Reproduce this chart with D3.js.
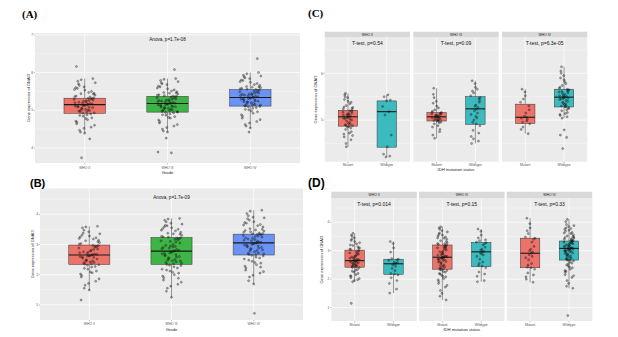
<!DOCTYPE html>
<html>
<head>
<meta charset="utf-8">
<script src="https://cdn.jsdelivr.net/npm/d3@7"></script>
<style>
  body { margin: 0; background: #fff; }
  svg { display: block; font-family: "Liberation Sans", Arial, sans-serif; }
</style>
</head>
<body>
<svg id="fig" width="618" height="337"></svg>
<script>
const gradeNames = ["WHO II", "WHO III", "WHO IV"];
const idhNames = ["Mutant", "Wildtype"];
const geneLabel = "Gene expression of GNAI3";

// (A) expression by grade, first cohort
const aTest = "Anova, p=1.7e-08";
const aTicks = [4, 5, 6, 7];
const aQ1 = [4.92, 4.95, 5.11];
const aMed = [5.15, 5.18, 5.34];
const aQ3 = [5.32, 5.37, 5.55];
const aLow = [4.39, 4.42, 4.53];
const aHigh = [5.84, 5.84, 6.00];
const aPoints = [
    [5.15,4.98,5.31,5.62,4.71,5.08,5.44,4.93,5.22,5.77,4.55,5.12,5.36,5.01,4.86,5.27,5.53,4.64,5.18,5.05,5.40,4.95,5.70,4.80,5.24,5.11,5.47,4.42,5.33,5.02,5.58,4.90,5.19,5.29,4.75,5.66,5.07,5.14,5.38,4.99,5.81,4.60,5.25,5.09,5.50,4.84,5.20,5.32,4.96,5.43,5.13,4.68,5.35,5.04,5.73,4.88,5.21,5.17,4.52,5.60,5.26,5.00,5.45,4.78,5.10,5.30,4.92,5.55,5.16,4.47,5.84,4.39,6.16,4.24,3.74],
    [5.20,4.97,5.36,5.68,4.74,5.11,5.47,4.96,5.25,5.79,4.58,5.15,5.40,5.03,4.88,5.30,5.57,4.66,5.21,5.07,5.43,4.99,5.73,4.83,5.27,5.14,5.51,4.45,5.37,5.05,5.62,4.93,5.22,5.33,4.79,5.70,5.09,5.17,5.41,5.01,5.82,4.62,5.28,5.12,5.54,4.87,5.23,5.35,4.98,5.46,5.16,4.70,5.38,5.06,5.76,4.90,5.24,5.19,4.54,5.64,5.29,5.02,5.49,4.81,5.13,5.32,4.94,5.59,5.18,4.50,5.84,4.42,5.26,5.10,5.39,4.95,5.45,5.08,6.08,4.26,3.89,3.87],
    [5.35,5.12,5.52,5.84,4.88,5.27,5.63,5.10,5.41,5.93,4.70,5.31,5.57,5.18,5.02,5.46,5.74,4.79,5.37,5.22,5.60,5.13,5.89,4.96,5.43,5.29,5.68,4.58,5.54,5.20,5.79,5.07,5.38,5.49,4.92,5.86,5.24,5.33,5.58,5.15,5.97,4.75,5.44,5.28,5.71,5.01,5.39,5.51,5.11,5.62,5.32,4.84,5.55,5.21,5.91,5.05,5.40,5.36,4.66,5.80,5.45,5.16,5.66,4.98,5.30,5.48,5.09,5.76,5.34,4.62,6.00,4.53,5.42,5.25,5.56,5.14,5.61,5.23,6.37,4.42]
];

// (B) expression by grade, second cohort
const bTest = "Anova, p=1.7e-09";
const bTicks = [1, 2, 3, 4];
const bQ1 = [2.34, 2.34, 2.65];
const bMed = [2.65, 2.78, 3.05];
const bQ3 = [2.98, 3.23, 3.34];
const bLow = [1.49, 1.25, 1.69];
const bHigh = [3.60, 3.86, 4.13];
const bPoints = [
    [2.65,2.38,2.93,3.42,2.02,2.57,3.12,2.33,2.78,3.55,1.78,2.61,3.01,2.45,2.21,2.85,3.28,1.92,2.68,2.49,3.06,2.36,3.38,2.12,2.74,2.59,3.18,1.65,2.96,2.42,3.31,2.27,2.70,2.88,2.06,3.47,2.52,2.63,3.03,2.40,3.58,1.86,2.80,2.55,3.22,2.18,2.72,2.97,2.35,3.09,2.62,1.98,2.91,2.47,3.35,2.25,2.76,2.67,1.71,3.25,2.83,2.44,3.14,2.09,2.58,2.94,2.31,3.20,2.66,1.55,3.60,1.49,1.16],
    [2.78,2.40,3.19,3.70,1.95,2.66,3.37,2.30,2.92,3.80,1.68,2.72,3.27,2.50,2.15,3.05,3.55,1.82,2.83,2.56,3.30,2.36,3.63,2.05,2.95,2.69,3.45,1.55,3.22,2.46,3.58,2.22,2.88,3.12,2.00,3.75,2.60,2.76,3.25,2.43,3.84,1.75,3.00,2.63,3.50,2.12,2.86,3.17,2.34,3.34,2.74,1.90,3.21,2.53,3.67,2.26,2.97,2.80,1.62,3.52,3.08,2.48,3.40,2.08,2.71,3.15,2.31,3.47,2.79,1.45,3.86,1.25,2.90,2.58,3.24,2.38,3.35,2.64,1.88,3.10,2.18,2.93,3.62,2.45],
    [3.05,2.70,3.32,3.90,2.28,2.95,3.52,2.62,3.16,4.02,2.05,3.00,3.40,2.80,2.48,3.24,3.75,2.15,3.08,2.86,3.44,2.66,3.85,2.38,3.20,2.98,3.62,1.92,3.36,2.76,3.70,2.55,3.12,3.30,2.33,3.95,2.90,3.03,3.46,2.72,4.10,2.10,3.26,2.92,3.66,2.44,3.14,3.33,2.67,3.50,3.02,2.22,3.38,2.84,3.88,2.58,3.18,3.07,1.98,3.72,3.28,2.78,3.58,2.40,2.99,3.34,2.64,3.64,3.06,1.80,4.13,1.69,3.22,2.88,3.42,2.69,3.48,2.94,2.25,3.35,2.52,3.10,3.80,2.82,0.72]
];

// (C) IDH status within each grade, first cohort: [Mutant, Wildtype] per grade
const cTests = ["T-test, p=0.54", "T-test, p=0.09", "T-test, p=6.3e-05"];
const cTicks = [5, 6];
const cQ1 = [[4.87, 4.42], [4.98, 4.91], [4.93, 5.28]];
const cMed = [[5.07, 5.18], [5.07, 5.24], [5.06, 5.49]];
const cQ3 = [[5.21, 5.41], [5.16, 5.50], [5.34, 5.66]];
const cLow = [[4.43, 4.21], [4.61, 4.50], [4.71, 5.04]];
const cHigh = [[5.57, 5.54], [5.68, 5.84], [5.66, 6.14]];
const cPoints = [
    [[5.07,4.90,5.19,5.48,4.70,5.02,5.31,4.88,5.12,5.54,4.58,5.05,5.24,4.95,4.80,5.15,5.40,4.64,5.09,4.98,5.27,4.86,5.50,4.75,5.13,5.04,5.35,4.50,5.21,4.93,5.44,4.83,5.10,5.17,4.72,5.57,5.00,5.06,5.28,4.91,4.43,4.67,5.14,5.03,5.38,4.85,5.11,5.20,4.89,5.25],
     [5.54,5.50,5.43,5.41,5.29,5.18,5.11,4.68,4.43,4.27,4.23,4.21]],
    [[5.07,4.99,5.14,5.40,4.85,5.04,5.22,4.96,5.10,5.55,4.75,5.06,5.17,5.01,4.92,5.12,5.30,4.68,5.08,5.03,5.16,4.98,5.68,4.80,5.11,5.05,5.26,4.61,5.15,5.00,5.36,4.94,5.09,5.13,4.88,5.48,5.02,5.07,5.19,4.97],
     [5.24,4.95,5.46,5.78,4.65,5.15,5.58,4.88,5.32,5.84,4.55,5.20,5.52,5.05,4.78,5.38,5.70,4.50,5.27,5.00,5.48,4.92,5.62,4.72,5.30,5.12,5.66,4.60,5.42,5.08]],
    [[5.06,4.95,5.30,5.60,4.80,5.02,5.45,4.92,5.15,5.66,4.71,5.08,5.38,4.98,4.85,5.22,5.52,5.04],
     [5.49,5.30,5.62,5.95,5.12,5.42,5.74,5.26,5.55,6.05,5.07,5.46,5.68,5.35,5.20,5.58,5.86,5.10,5.51,5.38,5.65,5.29,6.00,5.16,5.53,5.44,5.78,5.04,5.63,5.33,5.90,5.22,5.50,5.60,5.14,6.14,5.40,5.48,5.70,5.31,5.57,5.25,5.82,5.45,5.66,5.36,5.52,5.28,5.61,5.47,4.79,4.68,4.63,4.39]]
];

// (D) IDH status within each grade, second cohort
const dTests = ["T-test, p=0.014", "T-test, p=0.15", "T-test, p=0.33"];
const dTicks = [1, 2, 3, 4];
const dQ1 = [[2.42, 2.17], [2.35, 2.44], [2.40, 2.67]];
const dMed = [[2.65, 2.54], [2.77, 2.96], [2.91, 3.08]];
const dQ3 = [[3.02, 2.70], [3.20, 3.29], [3.44, 3.34]];
const dLow = [[1.91, 1.51], [1.27, 1.91], [1.89, 1.68]];
const dHigh = [[3.61, 3.32], [3.84, 3.76], [4.14, 4.10]];
const dPoints = [
    [[2.65,2.44,2.98,3.45,2.12,2.60,3.18,2.40,2.80,3.55,1.98,2.63,3.06,2.50,2.28,2.88,3.32,2.05,2.70,2.55,3.10,2.43,3.40,2.20,2.76,2.62,3.24,1.91,3.00,2.48,3.36,2.34,2.72,2.92,2.16,3.50,2.57,2.66,3.04,2.46,3.61,2.02,2.82,2.59,3.14,2.25,2.74,2.95,2.41,3.08,2.64,2.10,2.90,2.52,3.28,2.31,2.78,2.67,1.95,3.20,2.85,2.47,2.68,2.56,1.15],
     [2.54,2.20,2.68,3.25,1.85,2.45,2.72,2.15,2.60,3.32,1.65,2.50,2.66,2.30,2.05,2.58,3.10,1.51,2.56,2.38,2.70,2.18,2.95,1.95]],
    [[2.77,2.38,3.16,3.70,1.98,2.68,3.35,2.30,2.90,3.80,1.72,2.73,3.25,2.50,2.18,3.02,3.55,1.85,2.82,2.58,3.28,2.36,3.62,2.08,2.94,2.70,3.44,1.60,3.20,2.46,3.58,2.24,2.86,3.10,2.02,3.75,2.62,2.76,3.22,2.43,3.84,1.78,2.98,2.65,3.48,2.14,2.84,3.14,2.33,3.32,2.75,1.92,3.18,2.55,3.66,2.27,2.96,2.79,1.50,3.52,3.06,2.48,3.40,2.10,2.72,3.12,2.32,3.45,2.78,1.40,1.27,2.88,2.60,3.24,2.40,2.80,2.66,2.20,3.08,2.74],
     [2.96,2.48,3.25,3.68,2.10,2.85,3.35,2.40,3.05,3.76,1.95,2.92,3.30,2.60,2.25,3.12,3.55,1.91,2.98,2.70,3.28,2.46,3.45,2.18,3.02,2.80,3.20,2.55,3.38,2.88]],
    [[2.91,2.42,3.40,3.95,2.08,2.80,3.60,2.35,3.05,4.14,1.89,2.86,3.48,2.55,2.22,3.15,3.80,2.00,2.95,2.68,3.44,2.40,3.70,2.15,3.00,2.75,3.30,2.50],
     [3.08,2.72,3.32,3.85,2.30,2.98,3.52,2.64,3.18,4.02,2.06,3.02,3.40,2.82,2.50,3.24,3.72,2.16,3.10,2.88,3.44,2.68,3.80,2.40,3.22,3.00,3.60,1.95,3.36,2.78,3.68,2.56,3.14,3.30,2.35,3.92,2.92,3.05,3.46,2.74,4.10,2.12,3.26,2.94,3.64,2.46,3.16,3.34,2.69,3.50,3.04,2.24,3.38,2.86,3.88,2.60,3.20,3.09,1.85,3.75,3.28,2.80,3.56,2.42,3.01,3.35,2.66,3.62,3.07,1.75,1.68,3.12,2.90,3.42,2.71,3.48,2.96,2.28,3.33,2.54,3.11,3.78,2.84,3.06,3.19,2.99,3.27,0.72]]
];

const gradeColors = ["#EB7369", "#3DB445", "#6A93F3"];
const idhColors = ["#EB7369", "#3CBBBF"];

var svg = d3.select("#fig");

const drawPanel = function (p) {
    var g = svg.append("g"),
        nf = p.facets.length,
        fw = (p.right - p.left - p.gap * (nf - 1)) / nf,
        y = d3.scaleLinear().domain(p.yDomain).range([p.bottom, p.top]),
        step = p.ticks[1] - p.ticks[0],
        minor = p.ticks.map(t => t - step / 2)
                    .concat([p.ticks[p.ticks.length - 1] + step / 2])
                    .filter(t => t > p.yDomain[0] && t < p.yDomain[1]);

    p.facets.forEach(function (f, i) {
        var x0 = p.left + i * (fw + p.gap),
            x1 = x0 + fw,
            x = d3.scalePoint().domain(f.names).range([x0, x1]).padding(0.6),
            bw = x.step() * 0.5,
            jit = x.step() * 0.13,
            cx = (x0 + x1) / 2;

        // panel background and grid
        g.append("rect")
            .attr("x", x0).attr("y", p.top)
            .attr("width", fw).attr("height", p.bottom - p.top)
            .attr("fill", "#EBEBEB");

        g.selectAll(null).data(minor).enter().append("line")
            .attr("x1", x0).attr("x2", x1)
            .attr("y1", d => y(d)).attr("y2", d => y(d))
            .attr("stroke", "#fff").attr("stroke-width", 0.35);

        g.selectAll(null).data(p.ticks).enter().append("line")
            .attr("x1", x0).attr("x2", x1)
            .attr("y1", d => y(d)).attr("y2", d => y(d))
            .attr("stroke", "#fff").attr("stroke-width", 0.7);

        g.selectAll(null).data(f.names).enter().append("line")
            .attr("x1", d => x(d)).attr("x2", d => x(d))
            .attr("y1", p.top).attr("y2", p.bottom)
            .attr("stroke", "#fff").attr("stroke-width", 0.7);

        // facet strip
        if (p.stripH) {
            g.append("rect")
                .attr("x", x0).attr("y", p.top - p.stripH)
                .attr("width", fw).attr("height", p.stripH)
                .attr("fill", "#D9D9D9");
            g.append("text")
                .attr("x", cx).attr("y", p.top - p.stripH / 2 + 1.2)
                .attr("text-anchor", "middle")
                .attr("font-size", "3.4px").attr("fill", "#1A1A1A")
                .text(f.strip);
        }

        // boxes
        f.names.forEach(function (name, j) {
            var xc = x(name);

            g.append("line")
                .attr("x1", xc).attr("x2", xc)
                .attr("y1", y(f.low[j])).attr("y2", y(f.q1[j]))
                .attr("stroke", "#333").attr("stroke-width", 0.5);
            g.append("line")
                .attr("x1", xc).attr("x2", xc)
                .attr("y1", y(f.q3[j])).attr("y2", y(f.high[j]))
                .attr("stroke", "#333").attr("stroke-width", 0.5);

            g.append("rect")
                .attr("x", xc - bw / 2).attr("y", y(f.q3[j]))
                .attr("width", bw).attr("height", y(f.q1[j]) - y(f.q3[j]))
                .attr("fill", f.colors[j])
                .attr("stroke", "#333").attr("stroke-width", 0.5);

            g.append("line")
                .attr("x1", xc - bw / 2).attr("x2", xc + bw / 2)
                .attr("y1", y(f.med[j])).attr("y2", y(f.med[j]))
                .attr("stroke", "#1A1A1A").attr("stroke-width", 1.1);

            // jittered samples
            g.selectAll(null).data(f.points[j]).enter().append("circle")
                .attr("cx", (d, k) => xc + (((k + 1) * 0.618034) % 1 - 0.5) * 2 * jit)
                .attr("cy", d => y(d))
                .attr("r", 1.05)
                .attr("fill", "#333").attr("fill-opacity", 0.4)
                .attr("stroke", "#000").attr("stroke-opacity", 0.7)
                .attr("stroke-width", 0.35);
        });

        // test label
        g.append("text")
            .attr("x", cx).attr("y", p.labelY)
            .attr("text-anchor", "middle")
            .attr("font-size", p.labelSize + "px").attr("fill", "#111")
            .text(f.label);

        // x axis ticks
        f.names.forEach(function (name) {
            g.append("line")
                .attr("x1", x(name)).attr("x2", x(name))
                .attr("y1", p.bottom).attr("y2", p.bottom + 1.3)
                .attr("stroke", "#555").attr("stroke-width", 0.4);
            g.append("text")
                .attr("x", x(name)).attr("y", p.xTickY)
                .attr("text-anchor", "middle")
                .attr("font-size", "3.4px").attr("fill", "#555")
                .text(name);
        });
    });

    // y axis
    p.ticks.forEach(function (t) {
        g.append("line")
            .attr("x1", p.left - 1.3).attr("x2", p.left)
            .attr("y1", y(t)).attr("y2", y(t))
            .attr("stroke", "#555").attr("stroke-width", 0.4);
        g.append("text")
            .attr("x", p.left - 1.8).attr("y", y(t) + 1.2)
            .attr("text-anchor", "end")
            .attr("font-size", "3.4px").attr("fill", "#555")
            .text(t);
    });

    g.append("text")
        .attr("transform", "translate(" + p.yTitleX + "," + (p.top + p.bottom) / 2 + ") rotate(-90)")
        .attr("text-anchor", "middle")
        .attr("font-size", "4px").attr("fill", "#222")
        .text(geneLabel);

    g.append("text")
        .attr("x", (p.left + p.right) / 2).attr("y", p.xTitleY)
        .attr("text-anchor", "middle")
        .attr("font-size", "4.2px").attr("fill", "#222")
        .text(p.xTitle);

    // panel tag
    g.append("text")
        .attr("x", p.tagX).attr("y", p.tagY)
        .attr("font-family", p.tagSerif ? "'Liberation Serif', 'Times New Roman', serif" : "'Liberation Sans', Arial, sans-serif")
        .attr("font-weight", "bold")
        .attr("font-size", p.tagSize + "px")
        .attr("fill", "#000")
        .text(p.tag);
};

const gradeFacet = function (label, q1, med, q3, low, high, points) {
    return [{
        names: gradeNames, label: label, colors: gradeColors,
        q1: q1, med: med, q3: q3, low: low, high: high, points: points
    }];
};

const idhFacets = function (labels, q1, med, q3, low, high, points) {
    return gradeNames.map(function (grade, i) {
        return {
            names: idhNames, strip: grade, label: labels[i], colors: idhColors,
            q1: q1[i], med: med[i], q3: q3[i], low: low[i], high: high[i], points: points[i]
        };
    });
};

drawPanel({
    left: 35, right: 300, top: 33, bottom: 163, gap: 0, stripH: 0,
    yDomain: [3.6, 7.05], ticks: aTicks,
    facets: gradeFacet(aTest, aQ1, aMed, aQ3, aLow, aHigh, aPoints),
    labelY: 40.5, labelSize: 4.6, xTickY: 168.5, xTitleY: 174, xTitle: "Grade", yTitleX: 29.5,
    tag: "(A)", tagX: 22, tagY: 17.5, tagSize: 11, tagSerif: true
});

drawPanel({
    left: 40, right: 303, top: 188.5, bottom: 320, gap: 0, stripH: 0,
    yDomain: [0.5, 4.85], ticks: bTicks,
    facets: gradeFacet(bTest, bQ1, bMed, bQ3, bLow, bHigh, bPoints),
    labelY: 198.5, labelSize: 4.6, xTickY: 325, xTitleY: 330.5, xTitle: "Grade", yTitleX: 33.5,
    tag: "(B)", tagX: 30, tagY: 187, tagSize: 11, tagSerif: false
});

drawPanel({
    left: 324.7, right: 587.3, top: 37.3, bottom: 161.7, gap: 3.3, stripH: 5.6,
    yDomain: [4.11, 6.77], ticks: cTicks,
    facets: idhFacets(cTests, cQ1, cMed, cQ3, cLow, cHigh, cPoints),
    labelY: 45.3, labelSize: 5, xTickY: 165.5, xTitleY: 170.5, xTitle: "IDH mutation status", yTitleX: 316.5,
    tag: "(C)", tagX: 308, tagY: 16.5, tagSize: 11, tagSerif: true
});

drawPanel({
    left: 331.3, right: 592.3, top: 198.3, bottom: 321, gap: 2.2, stripH: 6.6,
    yDomain: [0.53, 4.84], ticks: dTicks,
    facets: idhFacets(dTests, dQ1, dMed, dQ3, dLow, dHigh, dPoints),
    labelY: 206, labelSize: 5, xTickY: 326, xTitleY: 331, xTitle: "IDH mutation status", yTitleX: 323,
    tag: "(D)", tagX: 308, tagY: 187, tagSize: 12, tagSerif: false
});
</script>
</body>
</html>
